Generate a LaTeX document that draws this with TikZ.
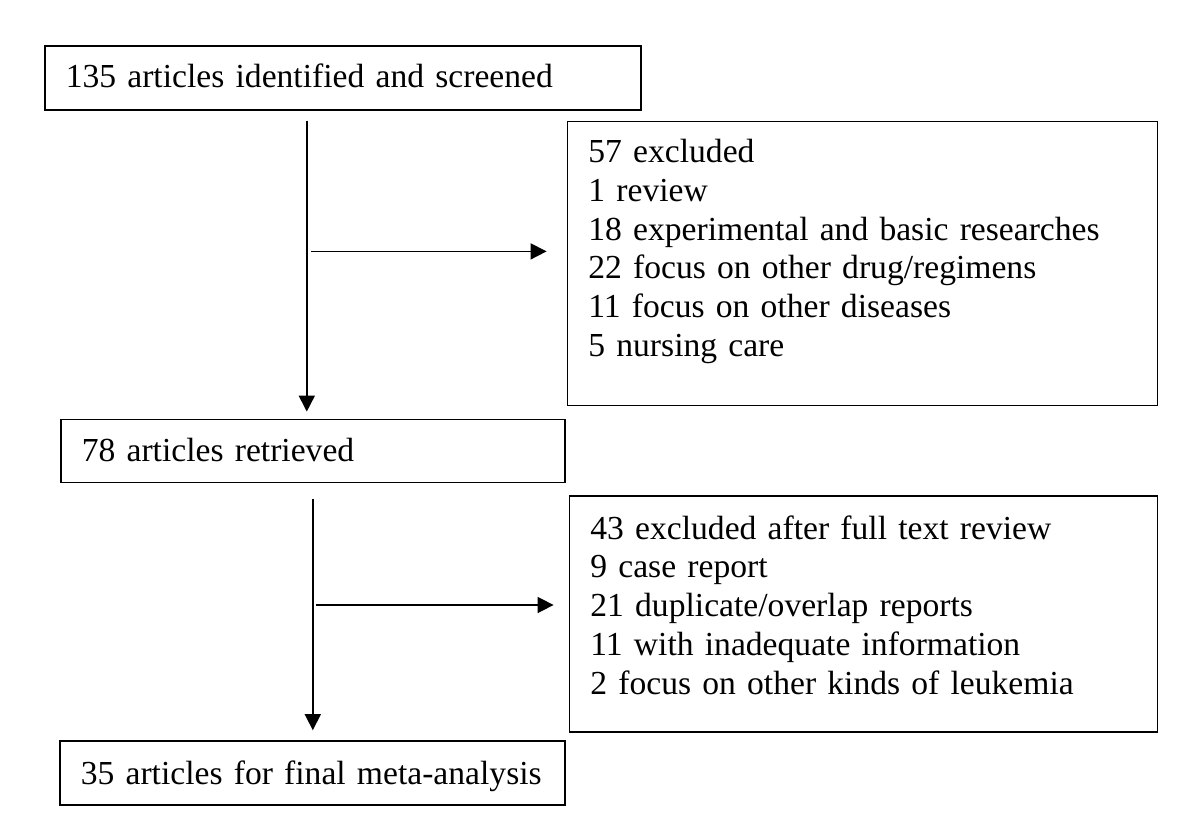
\documentclass[tikz,border=0pt]{standalone}
\usepackage{fontspec}
\setmainfont{Liberation Serif}
\usetikzlibrary{arrows.meta, positioning}
\tikzset{
    box/.style={draw, line width=0.8pt, fill=white, align=left, inner xsep=10.5pt, inner ysep=0pt, text height=21pt, text depth=10.5pt, font=\fontsize{16.8}{19.4}\selectfont},
    arrow/.style={-{Triangle[length=8pt, width=8pt]}, line width=0.8pt}
}

\begin{document}
\begin{tikzpicture}
        \useasboundingbox (0,0) rectangle (600pt,-406.5pt);
        \node [box, anchor=north west, text width=277pt, text depth=11pt] (screened) at (22pt,-22.5pt) {135 articles identified and screened};
        \node [box, below right=5pt and -37.5pt of screened.south east, text width=274pt, text height=20.5pt, text depth=121.5pt] (excl1) {57 excluded\\1 review\\18 experimental and basic researches\\22 focus on other drug/regimens\\11 focus on other diseases\\5 nursing care};
        \node [box, below=154pt of screened.south west, anchor=north west, xshift=8pt, text width=231pt] (retrieved) {78 articles retrieved};
        \node [box, below right=6pt and 1.5pt of retrieved.south east, text width=273pt, text height=21.5pt, text depth=96.5pt] (excl2) {43 excluded after full text review\\9 case report\\21 duplicate/overlap reports\\11 with inadequate information\\2 focus on other kinds of leukemia};
        \node [box, below=128.5pt of retrieved.south west, anchor=north west, xshift=-0.5pt, text width=231.5pt, text height=21.5pt] (final) {\mbox{35 articles for final meta-analysis}};
        % main flow
        \coordinate (branch) at ([xshift=-18pt, yshift=-5pt]screened.south);
        \draw [arrow, shorten >=3.5pt] (branch) -- (branch |- retrieved.north);
        \draw [arrow, shorten <=8pt, shorten >=5pt] (retrieved.south) -- (retrieved.south |- final.north);
        % exclusions
        \draw [arrow, shorten >=10pt] ([xshift=2pt, yshift=6pt]branch |- excl1.west) -- ([yshift=6pt]excl1.west);
        \draw [arrow, shorten >=7.5pt] ([xshift=1.5pt, yshift=4.5pt]retrieved.south |- excl2.west) -- ([yshift=4.5pt]excl2.west);
    \end{tikzpicture}
\end{document}
